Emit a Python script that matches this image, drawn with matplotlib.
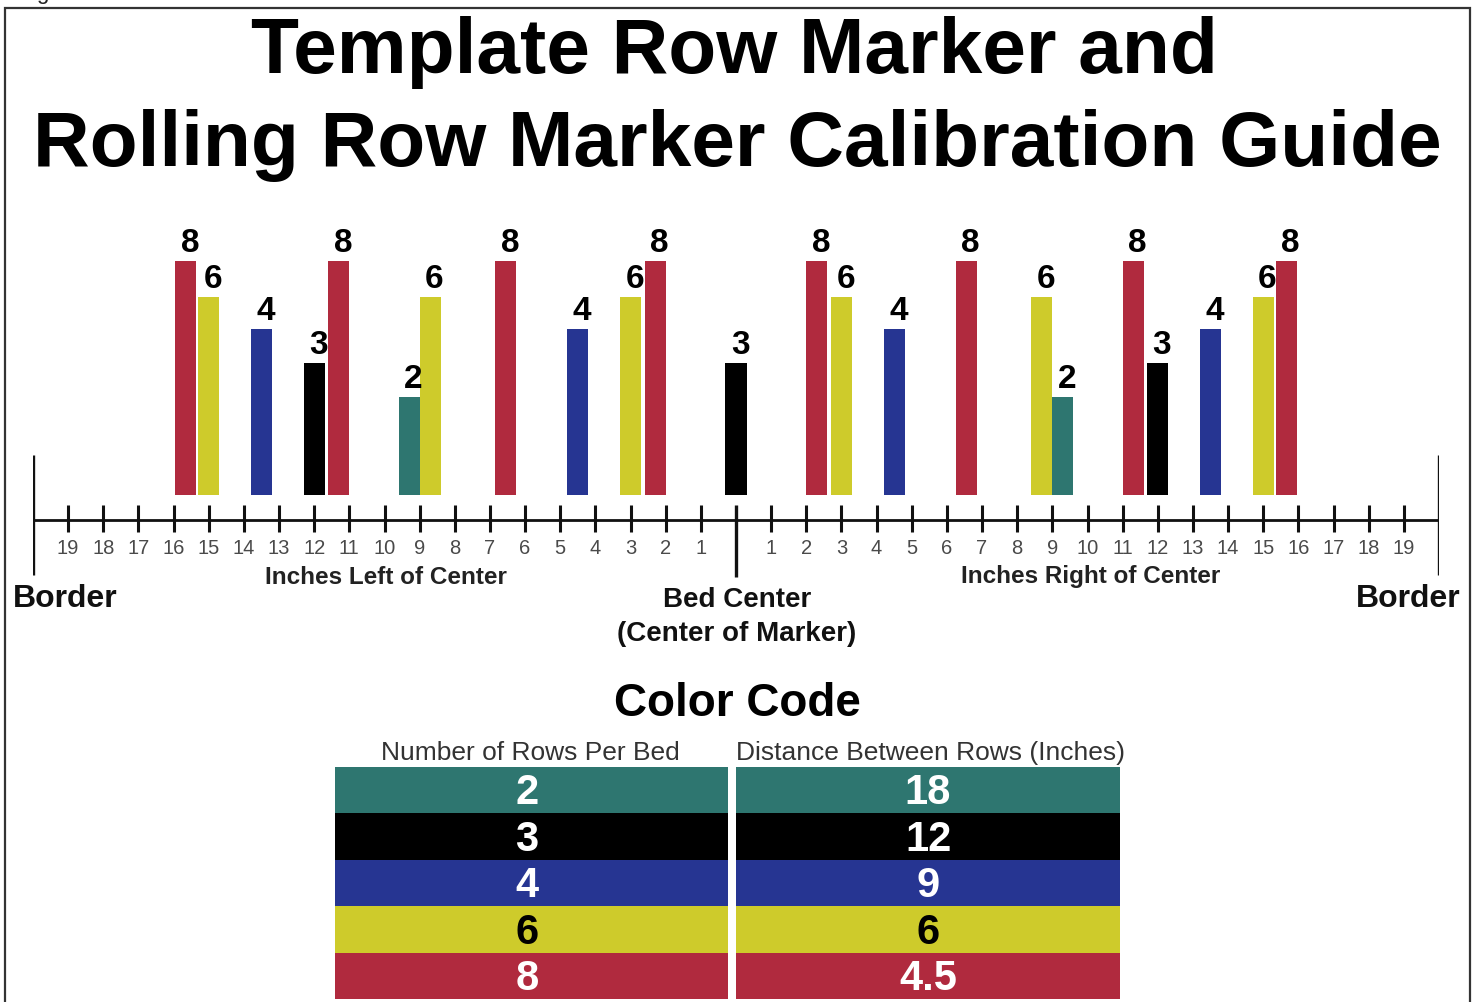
import matplotlib
matplotlib.use("Agg")
import matplotlib.pyplot as plt
from matplotlib.patches import Rectangle

## Data
ROWS = [2, 3, 4, 6, 8]
SPACING = ["18", "12", "9", "6", "4.5"]
COLORS = ["#2E7670", "#000000", "#263592", "#CECB2B", "#B02A3E"]
TEXT_COLORS = ["white", "white", "white", "black", "white"]

## Marker positions, inches from bed center (as drawn)
POS_2 = [-9.3, 9.3]
POS_3 = [-12, 0, 12]
POS_4 = [-13.5, -4.5, 4.5, 13.5]
POS_6 = [-15, -8.7, -3, 3, 8.7, 15]
POS_8 = [-15.65, -11.3, -6.55, -2.3, 2.3, 6.55, 11.3, 15.65]
POSITIONS = [POS_2, POS_3, POS_4, POS_6, POS_8]
BAR_LEVEL = [2.9, 3.9, 4.9, 5.85, 6.9]

INCHES = list(range(1, 20))

################################################################################
W, H = 1479, 1002
FONT = "Liberation Sans"
BAR_STEP = 33.9
BAR_BASE = 25
BAR_WIDTH = 0.6


def fx(x):
  return x / W


def fy(y):
  return 1 - y / H


fig = plt.figure(figsize=(W / 100, H / 100), dpi=100)
fig.patch.set_facecolor("white")

## Frame around the picture
fig.patches.append(Rectangle((fx(5), fy(1010)), fx(1465), 1010 / H - 8 / H,
                             transform=fig.transFigure, fill=False,
                             edgecolor="#333333", linewidth=1.6))
fig.text(fx(36), fy(-1), "g", fontsize=16, family=FONT, color="#222222", va="baseline")

## Title
fig.text(fx(734), fy(73), "Template Row Marker and", fontsize=56.5, family=FONT,
         weight="bold", ha="center", va="baseline")
fig.text(fx(737), fy(166), "Rolling Row Marker Calibration Guide", fontsize=56.5,
         family=FONT, weight="bold", ha="center", va="baseline")

################################################################################
## Ruler axes: x in inches, y in pixels above the ruler line
ax = fig.add_axes([fx(33), fy(650), 1406 / W, 450 / H])
ax.set_xlim(-20, 20)
ax.set_ylim(-130, 320)
ax.set_axis_off()

for pos, level, color, rows in zip(POSITIONS, BAR_LEVEL, COLORS, ROWS):
  height = level * BAR_STEP
  ax.bar(pos, height, width=BAR_WIDTH, bottom=BAR_BASE, color=color, zorder=2)
  for p in pos:
    ax.text(p + 0.12, BAR_BASE + height + 9, str(rows), fontsize=24, family=FONT,
            weight="bold", ha="center", va="baseline")

ax.hlines(0, -20, 20, color="#111111", linewidth=2.0)
ticks = [-i for i in INCHES] + INCHES
ax.vlines(ticks, -12, 15, color="#111111", linewidth=2.2)
ax.vlines([-20, 20], -55, 65, color="#111111", linewidth=2.4)
ax.vlines(0, -57, 15, color="#111111", linewidth=2.4)

for t in ticks:
  ax.text(t, -29, str(abs(t)), fontsize=14.5, family=FONT, color="#4a4a4a",
          ha="center", va="center")

fig.text(fx(386), fy(577), "Inches Left of Center", fontsize=17.5, family=FONT,
         weight="bold", color="#222222", ha="center", va="center")
fig.text(fx(1091), fy(577), "Inches Right of Center", fontsize=17.5, family=FONT,
         weight="bold", color="#222222", ha="center", va="center")
fig.text(fx(65), fy(599), "Border", fontsize=23, family=FONT, weight="bold",
         color="#111111", ha="center", va="center")
fig.text(fx(1408), fy(599), "Border", fontsize=23, family=FONT, weight="bold",
         color="#111111", ha="center", va="center")
fig.text(fx(737), fy(600), "Bed Center", fontsize=20, family=FONT, weight="bold",
         color="#111111", ha="center", va="center")
fig.text(fx(737), fy(634), "(Center of Marker)", fontsize=20, family=FONT,
         weight="bold", color="#111111", ha="center", va="center")

################################################################################
## Color code table
fig.text(fx(737), fy(704), "Color Code", fontsize=33, family=FONT, weight="bold",
         ha="center", va="center")
fig.text(fx(530), fy(753), "Number of Rows Per Bed", fontsize=19, family=FONT,
         color="#333333", ha="center", va="center")
fig.text(fx(931), fy(753), "Distance Between Rows (Inches)", fontsize=19, family=FONT,
         color="#333333", ha="center", va="center")

tab = fig.add_axes([fx(335), fy(999), 785 / W, (999 - 767) / H])
tab.set_xlim(0, 785)
tab.set_ylim(len(ROWS) - 0.5, -0.5)
tab.set_axis_off()

idx = list(range(len(ROWS)))
tab.barh(idx, 393, left=0, height=1.0, color=COLORS)
tab.barh(idx, 384, left=401, height=1.0, color=COLORS)
for i, rows, dist, tc in zip(idx, ROWS, SPACING, TEXT_COLORS):
  tab.text(192, i + 0.07, str(rows), fontsize=30, family=FONT, weight="bold", color=tc,
           ha="center", va="center")
  tab.text(593, i + 0.07, dist, fontsize=30, family=FONT, weight="bold", color=tc,
           ha="center", va="center")

fig.savefig("out.png", dpi=100)
